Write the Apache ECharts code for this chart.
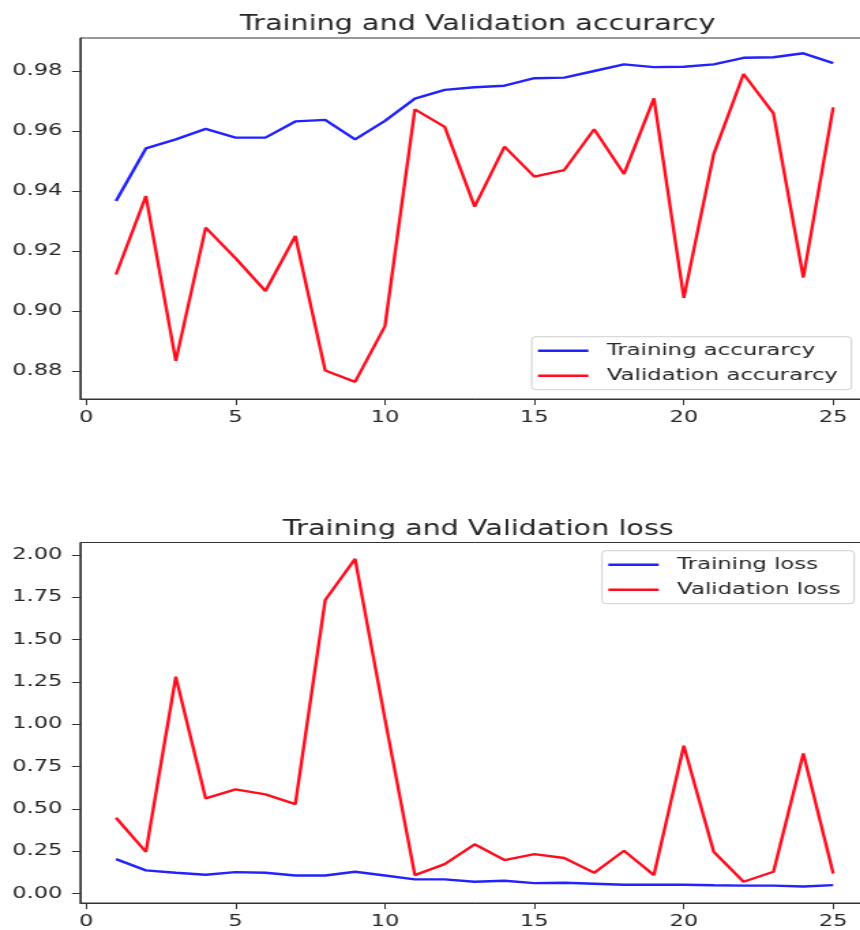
<!DOCTYPE html>
<html>
<head>
<meta charset="utf-8">
<script src="https://cdn.jsdelivr.net/npm/echarts@6/dist/echarts.min.js"></script>
<style>
html,body{margin:0;padding:0;background:#fff;overflow:hidden;width:860px;height:930px;}
#chart{width:640px;height:930px;transform:scaleX(1.363);transform-origin:0 0;}
</style>
</head>
<body>
<div id="chart"></div>
<script>
const epochs = [1,2,3,4,5,6,7,8,9,10,11,12,13,14,15,16,17,18,19,20,21,22,23,24,25];
const trainAcc = [0.9367,0.9542,0.9572,0.9607,0.9578,0.9578,0.9632,0.9637,0.9572,0.9634,0.9708,0.9737,0.9746,0.9751,0.9776,0.9778,0.9800,0.9822,0.9813,0.9814,0.9822,0.9844,0.9846,0.9859,0.9826];
const valAcc = [0.9122,0.9383,0.8834,0.9278,0.9176,0.9067,0.9250,0.8802,0.8764,0.8950,0.9672,0.9614,0.9348,0.9548,0.9448,0.9470,0.9606,0.9457,0.9709,0.9044,0.9523,0.9790,0.9659,0.9112,0.9679];
const trainLoss = [0.203,0.136,0.122,0.110,0.126,0.122,0.106,0.106,0.128,0.106,0.083,0.083,0.069,0.075,0.061,0.063,0.057,0.051,0.051,0.051,0.048,0.046,0.046,0.041,0.049];
const valLoss = [0.447,0.246,1.280,0.561,0.615,0.585,0.528,1.733,1.976,1.030,0.108,0.173,0.290,0.197,0.232,0.209,0.122,0.252,0.108,0.873,0.246,0.069,0.128,0.827,0.118];
const xTicks = [0,5,10,15,20,25];
const accTicks = [0.88,0.90,0.92,0.94,0.96,0.98];
const lossTicks = [0,0.25,0.5,0.75,1.0,1.25,1.5,1.75,2.0];

const FONT = 'DejaVu Sans';
const TXT = '#262626';
const BLUE = '#2222ff';
const RED = '#ff0d1e';
const pair = (ys) => epochs.map((e, i) => [e, ys[i]]);

function xAxis(gi) {
  return {
    type: 'value', gridIndex: gi, min: -0.2, max: 26.2,
    axisLine: {show: true, onZero: false, lineStyle: {color: '#333', width: 1}},
    axisTick: {show: true, length: 6, customValues: xTicks, lineStyle: {color: '#333', width: 1}},
    axisLabel: {customValues: xTicks, color: TXT, fontFamily: FONT, fontSize: 16.5, margin: 10},
    splitLine: {show: false}
  };
}
function yAxis(gi, min, max, ticks) {
  return {
    type: 'value', gridIndex: gi, min: min, max: max,
    axisLine: {show: true, onZero: false, lineStyle: {color: '#333', width: 1}},
    axisTick: {show: true, length: 6, customValues: ticks, lineStyle: {color: '#333', width: 1}},
    axisLabel: {customValues: ticks, color: TXT, fontFamily: FONT, fontSize: 16.5, margin: 13,
      formatter: v => v.toFixed(2)},
    splitLine: {show: false}
  };
}
function legend(names, left, top) {
  return {
    data: names, orient: 'vertical', left: left, top: top,
    icon: 'rect', itemWidth: 37, itemHeight: 2.5, itemGap: 8,
    padding: [5.5, 10, 5.5, 4.6],
    borderColor: '#d0d0d0', borderWidth: 1, borderRadius: 3,
    backgroundColor: 'rgba(255,255,255,0.8)',
    textStyle: {color: TXT, fontFamily: FONT, fontSize: 16.7, lineHeight: 17, padding: [0, 0, 0, 8.5]}
  };
}
function line(name, data, color, xi) {
  return {
    name: name, type: 'line', data: data, xAxisIndex: xi, yAxisIndex: xi,
    symbol: 'none', lineStyle: {color: color, width: 2.4}, itemStyle: {color: color}
  };
}

const chart = echarts.init(document.getElementById('chart'), null, {renderer: 'canvas'});
chart.setOption({
  animation: false,
  backgroundColor: '#fff',
  title: [
    {text: 'Training and Validation accurarcy', left: 171, top: 9.5,
     textStyle: {color: TXT, fontFamily: FONT, fontSize: 21, fontWeight: 'normal', lineHeight: 21}},
    {text: 'Training and Validation loss', left: 202.6, top: 514.5,
     textStyle: {color: TXT, fontFamily: FONT, fontSize: 21, fontWeight: 'normal', lineHeight: 21}}
  ],
  grid: [
    {left: 58.8, top: 38, width: 578.8, height: 361, show: true, borderColor: '#333', borderWidth: 1, backgroundColor: 'transparent'},
    {left: 58.8, top: 542.5, width: 578.8, height: 360.5, show: true, borderColor: '#333', borderWidth: 1, backgroundColor: 'transparent'}
  ],
  xAxis: [xAxis(0), xAxis(1)],
  yAxis: [yAxis(0, 0.8707, 0.991, accTicks), yAxis(1, -0.0565, 2.073, lossTicks)],
  legend: [
    legend(['Training accurarcy', 'Validation accurarcy'], 390.1, 336.7),
    legend(['Training loss', 'Validation loss'], 441.7, 550.7)
  ],
  series: [
    line('Training accurarcy', pair(trainAcc), BLUE, 0),
    line('Validation accurarcy', pair(valAcc), RED, 0),
    line('Training loss', pair(trainLoss), BLUE, 1),
    line('Validation loss', pair(valLoss), RED, 1)
  ]
});
</script>
</body>
</html>
